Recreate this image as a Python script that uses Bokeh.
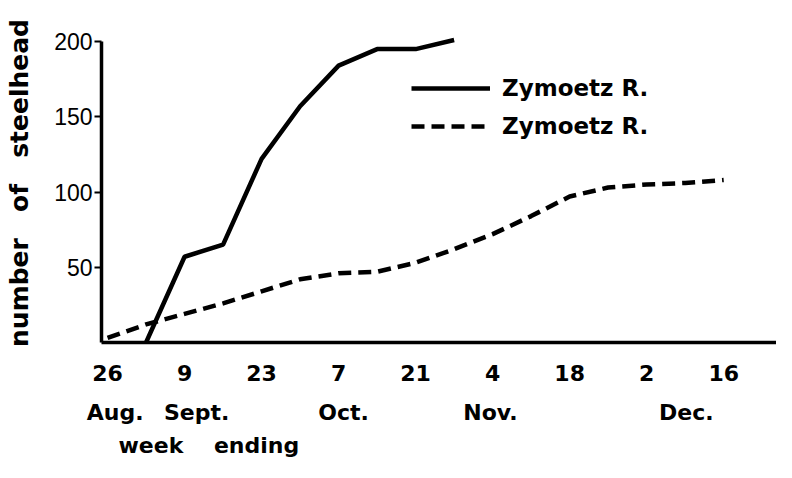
from bokeh.plotting import figure
from bokeh.models import FixedTicker, LinearAxis, Legend, LegendItem, Range1d, Title
from bokeh.core.properties import value
from bokeh.embed import file_html
from bokeh.resources import INLINE

# ---- data (days counted from week ending 26 Aug) ----
tick_days = [0, 14, 28, 42, 56, 70, 84, 98, 112]
tick_labels = ["26", "9", "23", "7", "21", "4", "18", "2", "16"]
month_pos = [1.4, 16.2, 42.9, 69.6, 105.2]
month_labels = ["Aug.", "Sept.", "Oct.", "Nov.", "Dec."]
y_ticks = [50, 100, 150, 200]

solid_days = [7, 14, 21, 28, 35, 42, 49, 56, 63]
solid_counts = [0, 57, 65, 122, 157, 184, 195, 195, 201]

dashed_days = [0, 7, 14, 21, 28, 35, 42, 49, 56, 63, 70, 77, 84, 91, 98, 105, 112]
dashed_counts = [3, 12, 19, 26, 34, 42, 46, 47, 53, 62, 72, 84, 97, 103, 105, 106, 108]

series_label = "Zymoetz R."
y_title = "number\u00a0\u00a0\u00a0of\u00a0\u00a0\u00a0steelhead"
x_title = "week\u00a0\u00a0\u00a0\u00a0ending"

BOLD = "DejaVu Sans"

p = figure(width=776, height=462, output_backend="svg", toolbar_location=None,
           x_range=Range1d(-1.1, 121.6), y_range=Range1d(0, 212),
           min_border_left=101, min_border_right=0, min_border_top=23,
           min_border_bottom=120, x_axis_type=None, y_axis_type=None)
p.grid.visible = False
p.outline_line_color = None
p.background_fill_color = "white"
p.border_fill_color = "white"


def bare(axis):
    axis.major_tick_out = 0
    axis.major_tick_in = 0
    axis.minor_tick_out = 0
    axis.minor_tick_in = 0


# x axis (day numbers)
xa = LinearAxis(ticker=FixedTicker(ticks=tick_days),
                major_label_overrides={d: l for d, l in zip(tick_days, tick_labels)})
bare(xa)
xa.axis_line_width = 3.5
xa.axis_line_color = "black"
xa.major_label_standoff = 22
xa.major_label_text_font = BOLD
xa.major_label_text_font_style = "bold"
xa.major_label_text_font_size = "22px"
xa.major_label_text_color = "black"
p.add_layout(xa, "below")

# month names
ma = LinearAxis(ticker=FixedTicker(ticks=month_pos),
                major_label_overrides={d: l for d, l in zip(month_pos, month_labels)})
bare(ma)
ma.axis_line_color = None
ma.major_label_standoff = 16
ma.major_label_text_font = BOLD
ma.major_label_text_font_style = "bold"
ma.major_label_text_font_size = "22px"
ma.major_label_text_color = "black"
p.add_layout(ma, "below")

# "week ending"
p.add_layout(Title(text=x_title, align="left", offset=17, standoff=6,
                   text_font=BOLD, text_font_style="bold",
                   text_font_size="22px", text_color="black"), "below")

# y axis
ya = LinearAxis(ticker=FixedTicker(ticks=y_ticks), bounds=(0, 200))
ya.axis_line_width = 3.5
ya.axis_line_color = "black"
ya.major_tick_out = 7
ya.major_tick_in = 0
ya.major_tick_line_width = 2
ya.minor_tick_out = 0
ya.minor_tick_in = 0
ya.major_label_standoff = 2
ya.major_label_text_font = "Liberation Sans"
ya.major_label_text_font_size = "23px"
ya.major_label_text_color = "black"
p.add_layout(ya, "left")

# y title
yt = LinearAxis(ticker=FixedTicker(ticks=[]), axis_label=y_title)
bare(yt)
yt.axis_line_color = None
yt.axis_label_standoff = 18
yt.axis_label_text_font = BOLD
yt.axis_label_text_font_style = "bold"
yt.axis_label_text_font_size = "25px"
yt.axis_label_text_color = "black"
p.add_layout(yt, "left")

# series
r1 = p.line(solid_days, solid_counts, line_width=4.5, line_color="black")
r2 = p.line(dashed_days, dashed_counts, line_width=4.5, line_color="black",
            line_dash="13 7")

legend = Legend(items=[LegendItem(label=value(series_label), renderers=[r1]),
                       LegendItem(label=value(series_label), renderers=[r2])],
                location=(310, 201), padding=0, margin=0, spacing=8,
                glyph_width=79, glyph_height=30, label_height=30,
                label_standoff=12, border_line_color=None,
                background_fill_alpha=0,
                label_text_font=BOLD, label_text_font_style="bold",
                label_text_font_size="23px", label_text_color="black")
p.add_layout(legend, "center")

open("out.html", "w").write(file_html(p, INLINE))
